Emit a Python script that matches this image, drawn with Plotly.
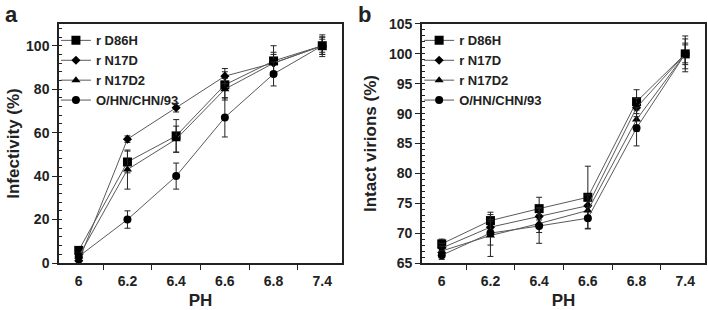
import plotly.graph_objects as go

ph = ["6", "6.2", "6.4", "6.6", "6.8", "7.4"]
names = ["r D86H", "r N17D", "r N17D2", "O/HN/CHN/93"]
symbols = ["square", "diamond", "triangle-up", "circle"]
sizes = [9, 7, 8, 8]

# Panel a: infectivity (%)
inf_d86h = [5.8, 46.5, 58.5, 82, 93, 100]
inf_n17d = [1, 57, 71.5, 86, 92, 100]
inf_n17d2 = [3, 43, 57, 80, 92, 100]
inf_ohn = [3, 20, 40, 67, 87, 100]
inf_err_d86h = [1.5, 5, 7.5, 6, 7, 4]
inf_err_n17d = [1, 1.5, 2, 3.5, 4, 3]
inf_err_n17d2 = [1.5, 9, 6, 5, 5, 5]
inf_err_ohn = [1.5, 4, 6, 9, 5.5, 4]

# Panel b: intact virions (%)
vir_d86h = [68.2, 72.1, 74.1, 76, 92, 100]
vir_n17d = [67.5, 71, 72.8, 74.6, 91, 100]
vir_n17d2 = [67, 69.6, 71.6, 73.8, 89, 100]
vir_ohn = [66.3, 70, 71.2, 72.5, 87.6, 100]
vir_err_d86h = [0.8, 1.4, 1.9, 5.2, 2, 3]
vir_err_n17d = [0.8, 1.3, 1.5, 1.8, 1.5, 1.8]
vir_err_n17d2 = [0.8, 3.5, 1.5, 1.5, 2, 1.5]
vir_err_ohn = [0.7, 2, 2.9, 1.8, 3, 2.5]

inf_series = [inf_d86h, inf_n17d, inf_n17d2, inf_ohn]
inf_errs = [inf_err_d86h, inf_err_n17d, inf_err_n17d2, inf_err_ohn]
vir_series = [vir_d86h, vir_n17d, vir_n17d2, vir_ohn]
vir_errs = [vir_err_d86h, vir_err_n17d, vir_err_n17d2, vir_err_ohn]

FONT = "Liberation Sans"
INK = "#222222"

fig = go.Figure()

for i in range(4):
    fig.add_trace(go.Scatter(
        x=ph, y=inf_series[i], name=names[i], mode="lines+markers",
        line=dict(color="#5a5a5a", width=1),
        marker=dict(symbol=symbols[i], size=sizes[i], color="black"),
        error_y=dict(type="data", array=inf_errs[i], color="#222", thickness=1, width=3),
        xaxis="x", yaxis="y", legend="legend",
    ))
for i in range(4):
    fig.add_trace(go.Scatter(
        x=ph, y=vir_series[i], name=names[i], mode="lines+markers",
        line=dict(color="#5a5a5a", width=1),
        marker=dict(symbol=symbols[i], size=sizes[i], color="black"),
        error_y=dict(type="data", array=vir_errs[i], color="#222", thickness=1, width=3),
        xaxis="x2", yaxis="y2", legend="legend2",
    ))

tickfont = dict(family=FONT, size=14, color=INK, weight="bold")
titlefont = dict(family=FONT, size=17, color=INK, weight="bold")

xcommon = dict(type="category", tickson="boundaries", ticks="outside", ticklen=5,
               tickcolor=INK, showline=True, linecolor=INK, linewidth=1.5, mirror=True,
               showgrid=False, zeroline=False, tickfont=tickfont, automargin=False,
               ticklabelstandoff=4,
               title=dict(text="PH", font=titlefont, standoff=9))

ycommon = dict(ticks="outside", ticklen=5, tickcolor=INK, showline=True, linecolor=INK,
               linewidth=1.5, mirror=True, showgrid=False, zeroline=False, tickfont=tickfont,
               automargin=False)

legfont = dict(family=FONT, size=13, color=INK, weight="bold")

fig.update_layout(
    template="none",
    width=708, height=310,
    margin=dict(l=0, r=0, t=0, b=0, autoexpand=False),
    paper_bgcolor="white", plot_bgcolor="white",
    xaxis=dict(domain=[0.0833, 0.4831], anchor="y", **xcommon),
    xaxis2=dict(domain=[0.596, 0.9958], anchor="y2", **xcommon),
    yaxis=dict(domain=[0.1516, 0.9226], anchor="x", range=[0, 110], dtick=20, tick0=0,
               minor=dict(dtick=4, tick0=0, ticks="inside", ticklen=3, tickcolor=INK, showgrid=False),
               title=dict(text="Infectivity (%)", font=titlefont, standoff=2), **ycommon),
    yaxis2=dict(domain=[0.1516, 0.9226], anchor="x2", range=[65, 105], dtick=5, tick0=65,
                minor=dict(dtick=1, tick0=65, ticks="inside", ticklen=3, tickcolor=INK, showgrid=False),
                title=dict(text="Intact virions (%)", font=titlefont, standoff=8), **ycommon),
    legend=dict(x=0.079, y=0.918, xanchor="left", yanchor="top", bgcolor="rgba(0,0,0,0)",
                font=legfont, tracegroupgap=0, itemwidth=30),
    legend2=dict(x=0.592, y=0.918, xanchor="left", yanchor="top", bgcolor="rgba(0,0,0,0)",
                 font=legfont, tracegroupgap=0, itemwidth=30),
    annotations=[
        dict(text="a", x=0.004, y=1.0, xref="paper", yref="paper", xanchor="left", yanchor="top",
             showarrow=False, font=dict(family=FONT, size=22, color=INK, weight="bold")),
        dict(text="b", x=0.503, y=1.0, xref="paper", yref="paper", xanchor="left", yanchor="top",
             showarrow=False, font=dict(family=FONT, size=22, color=INK, weight="bold")),
    ],
)

fig.write_html("out.html", config={"displayModeBar": False},
               post_script="document.body.style.margin='0';")
